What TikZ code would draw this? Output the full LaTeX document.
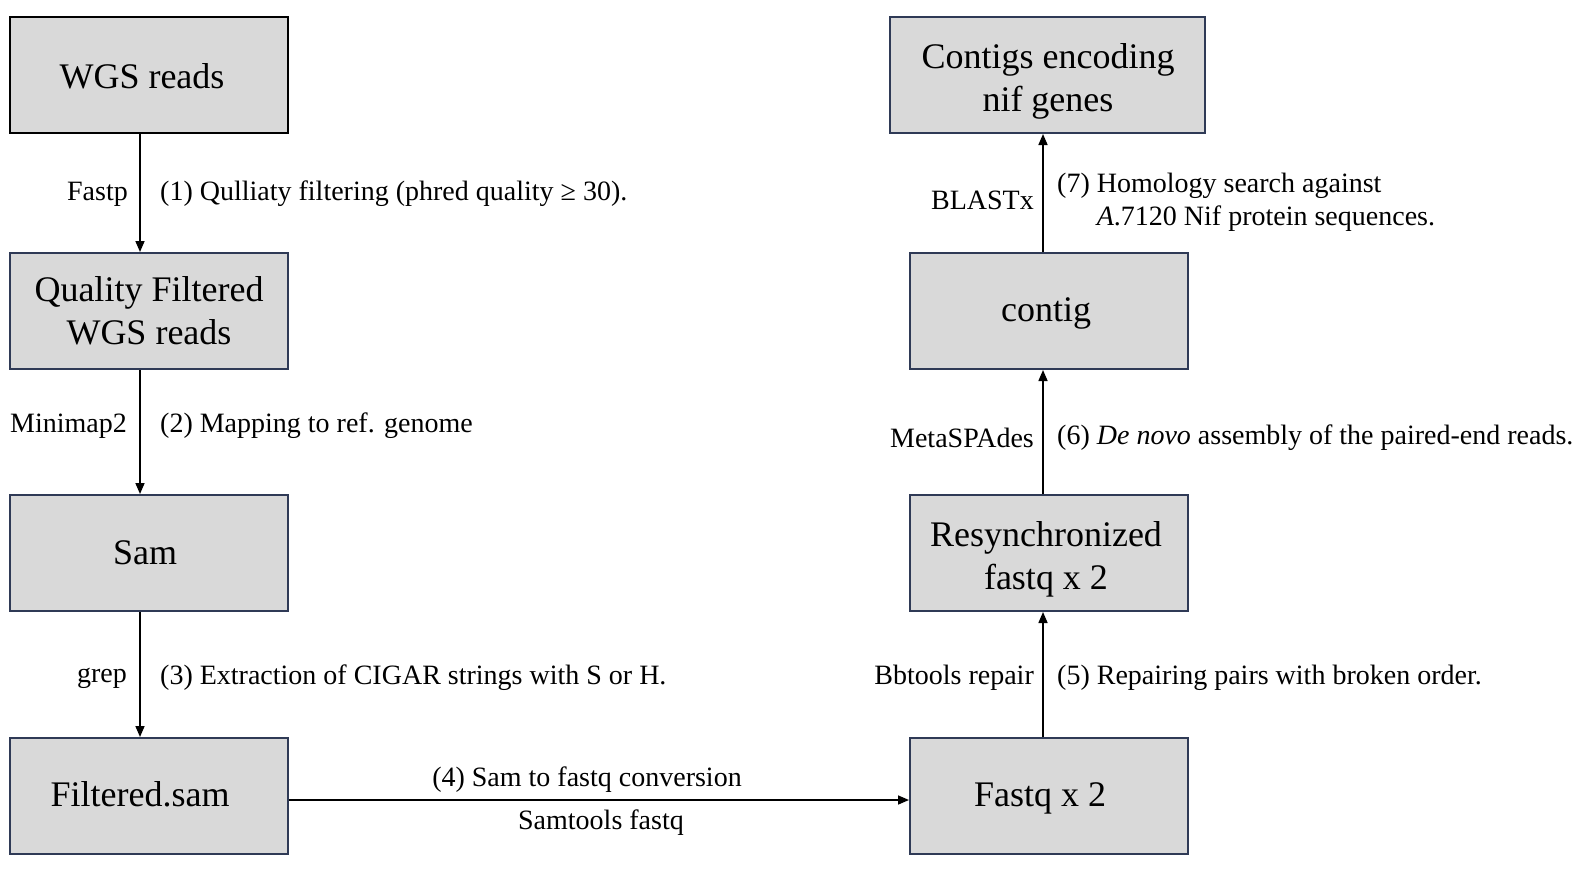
\documentclass[tikz,border=0pt]{standalone}
\usepackage{fontspec}
\setmainfont{Liberation Serif}
\usetikzlibrary{arrows.meta,calc}
\definecolor{boxgray}{HTML}{D9D9D9}
\definecolor{navy}{HTML}{2F3A56}
\begin{document}
\begin{tikzpicture}[x=1pt,y=-1pt,
  box/.style={draw=navy, line width=2pt, fill=boxgray, minimum width=278pt, minimum height=116pt, inner sep=0pt},
  boxtxt/.style={font=\fontsize{36}{43}\selectfont, align=center, inner sep=0pt},
  arr/.style={line width=1.6pt, -{Triangle[length=11pt,width=9pt]}},
  lbl/.style={font=\fontsize{28}{33}\selectfont, inner sep=0pt}]
\useasboundingbox (0,0) rectangle (1577,870);
\node[box, draw=black, line width=2.8pt] (wgs) at (149,75) {};
\node[box] (qf) at (149,311) {};
\node[box] (sam) at (149,553) {};
\node[box] (fsam) at (149,796) {};
\node[box] (fq) at (1049,796) {};
\node[box] (rs) at (1049,553) {};
\node[box] (ct) at (1049,311) {};
\node[box, minimum width=315pt] (ce) at (1047,75) {};

\node[boxtxt] (wgs-t) at ($(wgs)+(-7,1)$) {WGS reads};
\node[boxtxt] (qf-t) at ($(qf)+(0,0)$) {Quality Filtered\\WGS reads};
\node[boxtxt] (sam-t) at ($(sam)+(-4,0)$) {Sam};
\node[boxtxt] (fsam-t) at ($(fsam)+(-9,-2)$) {Filtered.sam};
\node[boxtxt] (fq-t) at ($(fq)+(-9,2)$) {Fastq x 2};
\node[boxtxt] (rs-t) at ($(rs)+(-3,6)$) {Resynchronized\\fastq x 2};
\node[boxtxt] (ct-t) at ($(ct)+(-3,2)$) {contig};
\node[boxtxt] (ce-t) at ($(ce)+(1,6)$) {Contigs encoding\\nif genes};

\draw[arr] ([xshift=-9pt]wgs.south) -- ([xshift=-9pt]qf.north);
\draw[arr] ([xshift=-9pt]qf.south) -- ([xshift=-9pt]sam.north);
\draw[arr] ([xshift=-9pt]sam.south) -- ([xshift=-9pt]fsam.north);
\draw[arr] ([yshift=-4pt]fsam.east) -- ([yshift=-4pt]fq.west);
\draw[arr] ([xshift=-6pt]fq.north) -- ([xshift=-6pt]rs.south);
\draw[arr] ([xshift=-6pt]rs.north) -- ([xshift=-6pt]ct.south);
\draw[arr] ([xshift=-6pt]ct.north) -- ([xshift=-4pt]ce.south);

\node[lbl, anchor=east] (l1a) at (128,194) {Fastp};
\node[lbl, anchor=west] (l1b) at (160,194) {(1) Qulliaty filtering (phred quality ≥ 30).};
\node[lbl, anchor=east] (l2a) at (127,426) {Minimap2};
\node[lbl, anchor=west] (l2b) at (160,426) {(2) Mapping to ref. genome};
\node[lbl, anchor=east] (l3a) at (127,678) {grep};
\node[lbl, anchor=west] (l3b) at (160,678) {(3) Extraction of CIGAR strings with S or H.};
\node[lbl] (l4a) at (587,780) {(4) Sam to fastq conversion};
\node[lbl] (l4b) at (601,823) {Samtools fastq};
\node[lbl, anchor=east] (l5a) at (1034,678) {Bbtools repair};
\node[lbl, anchor=west] (l5b) at (1057,678) {(5) Repairing pairs with broken order.};
\node[lbl, anchor=east] (l6a) at (1034,438) {MetaSPAdes};
\node[lbl, anchor=west] (l6b) at (1057,438) {(6) \textit{De novo} assembly of the paired-end reads.};
\node[lbl, anchor=east] (l7a) at (1034,200) {BLASTx};
\node[lbl, anchor=west, align=left] (l7b) at (1057,202) {(7) Homology search against\\\phantom{(7) }\textit{A}.7120 Nif protein sequences.};
\end{tikzpicture}
\end{document}
